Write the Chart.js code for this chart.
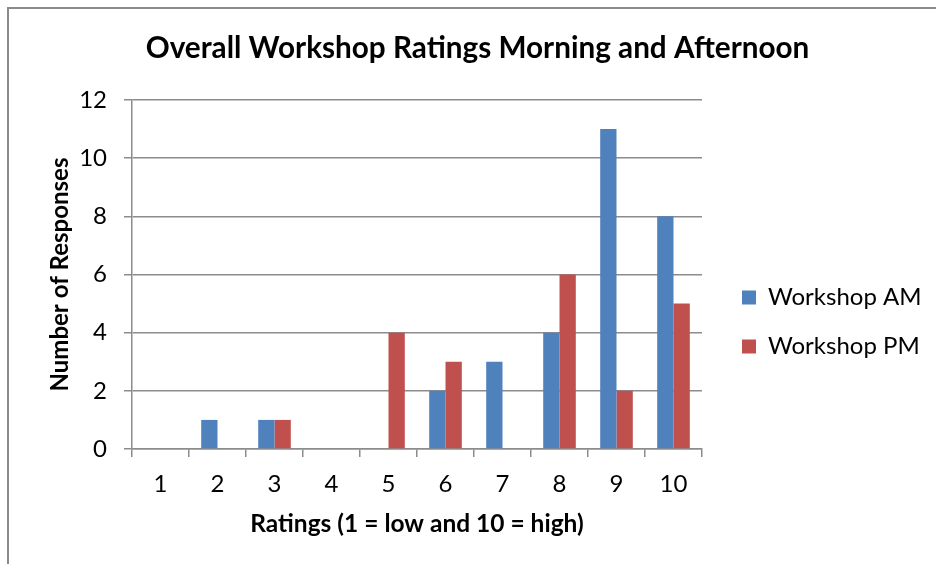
<!DOCTYPE html>
<html>
<head>
<meta charset="utf-8">
<script src="https://cdn.jsdelivr.net/npm/chart.js@4/dist/chart.umd.min.js"></script>
<style>
html,body{margin:0;padding:0;background:#fff;}
#wrap{position:relative;width:936px;height:564px;}
</style>
</head>
<body>
<div id="wrap"><canvas id="c" width="936" height="564"></canvas></div>
<script>
const categories = ['1','2','3','4','5','6','7','8','9','10'];
const workshopAM = [0, 1, 1, 0, 0, 2, 3, 4, 11, 8];
const workshopPM = [0, 0, 1, 0, 4, 3, 0, 6, 2, 5];
const seriesNames = ['Workshop AM', 'Workshop PM'];
const titleText = 'Overall Workshop Ratings Morning and Afternoon';
const xTitle = 'Ratings (1 = low and 10 = high)';
const yTitle = 'Number of Responses';

const GRID = '#8c8c8c';
const FONT = 'Lato';

const framePlugin = {
  id: 'frame',
  beforeDraw(chart) {
    const ctx = chart.ctx;
    ctx.save();
    ctx.fillStyle = '#fff';
    ctx.fillRect(0, 0, chart.width, chart.height);
    ctx.fillStyle = '#8a8a8a';
    ctx.fillRect(7, 7, 2, chart.height);
    ctx.fillRect(7, 7, chart.width, 2);
    ctx.restore();
  }
};

const legendPatch = {
  id: 'legendPatch',
  afterInit(chart) {
    const lg = chart.legend;
    if (!lg) return;
    const orig = lg.fit.bind(lg);
    lg.fit = function () { orig(); this.width = 234; };
  },
  afterLayout(chart) {
    const lg = chart.legend;
    if (!lg) return;
    lg.left += 15; lg.right += 15;
    lg.top += 40; lg.bottom += 40;
  }
};

new Chart(document.getElementById('c'), {
  type: 'bar',
  data: {
    labels: categories,
    datasets: [
      { label: seriesNames[0], data: workshopAM, backgroundColor: '#4F81BD', borderWidth: 0 },
      { label: seriesNames[1], data: workshopPM, backgroundColor: '#C0504D', borderWidth: 0 }
    ]
  },
  options: {
    responsive: false,
    animation: false,
    devicePixelRatio: 1,
    layout: { padding: { left: 19, right: 0, top: 0, bottom: 0 } },
    datasets: { bar: { categoryPercentage: 0.572, barPercentage: 1 } },
    plugins: {
      title: {
        display: true, text: titleText, color: '#000',
        font: { family: FONT, size: 29.7, weight: 'bold' },
        padding: { top: 30.2, bottom: 34.2 }
      },
      legend: {
        display: true, position: 'right', align: 'center',
        labels: {
          color: '#000', boxWidth: 14, boxHeight: 14, padding: 25,
          font: { family: FONT, size: 24 }
        }
      },
      tooltip: { enabled: false }
    },
    scales: {
      x: {
        afterFit(s) { s.height = 115; },
        grid: { display: true, offset: true, drawOnChartArea: false, drawTicks: true, tickLength: 8, color: GRID, lineWidth: 1.5 },
        border: { display: true, color: GRID, width: 1.5 },
        ticks: { color: '#000', padding: 13, font: { family: FONT, size: 24 } },
        title: { display: true, text: xTitle, color: '#000', font: { family: FONT, size: 24.5, weight: 'bold' }, padding: { top: 0, bottom: 25 } }
      },
      y: {
        min: 0, max: 12,
        afterFit(s) { s.width = 113; },
        grid: { display: true, drawOnChartArea: true, drawTicks: true, tickLength: 8, color: GRID, lineWidth: 1.5 },
        border: { display: true, color: GRID, width: 1.5 },
        ticks: { stepSize: 2, color: '#000', padding: 17, font: { family: FONT, size: 24 } },
        title: { display: true, text: yTitle, color: '#000', font: { family: FONT, size: 24, weight: 'bold' }, padding: { top: 27, bottom: 0 } }
      }
    }
  },
  plugins: [framePlugin, legendPatch]
});
</script>
</body>
</html>
